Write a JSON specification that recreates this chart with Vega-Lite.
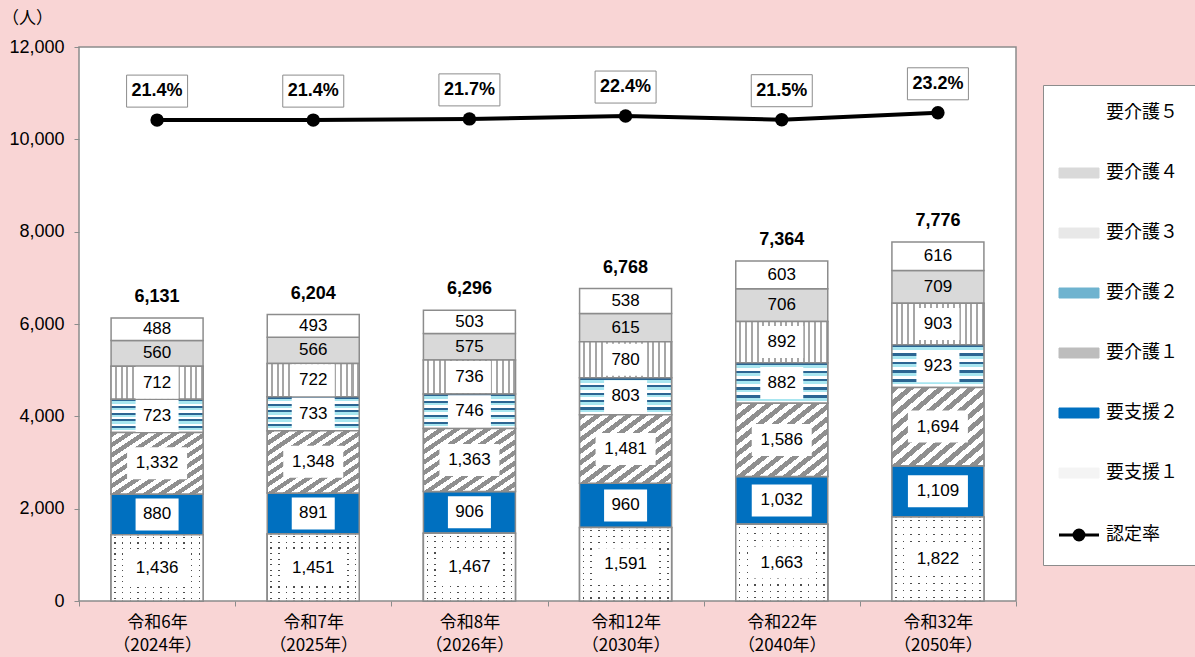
{
  "$schema": "https://vega.github.io/schema/vega-lite/v6.json",
  "width": 937,
  "height": 554,
  "autosize": "none",
  "padding": {"left": 79, "top": 47, "right": 179, "bottom": 56},
  "background": "#f9d5d5",
  "config": {
    "view": {"stroke": "#8c8c8c", "strokeWidth": 1.5, "fill": "white"},
    "font": "Noto Sans CJK JP"
  },
  "data": {
    "values": [
      {"year": "令和6年|（2024年）", "要支援１": 1436, "要支援２": 880, "要介護１": 1332, "要介護２": 723, "要介護３": 712, "要介護４": 560, "要介護５": 488, "total": 6131, "rate": 0.214},
      {"year": "令和7年|（2025年）", "要支援１": 1451, "要支援２": 891, "要介護１": 1348, "要介護２": 733, "要介護３": 722, "要介護４": 566, "要介護５": 493, "total": 6204, "rate": 0.214},
      {"year": "令和8年|（2026年）", "要支援１": 1467, "要支援２": 906, "要介護１": 1363, "要介護２": 746, "要介護３": 736, "要介護４": 575, "要介護５": 503, "total": 6296, "rate": 0.217},
      {"year": "令和12年|（2030年）", "要支援１": 1591, "要支援２": 960, "要介護１": 1481, "要介護２": 803, "要介護３": 780, "要介護４": 615, "要介護５": 538, "total": 6768, "rate": 0.224},
      {"year": "令和22年|（2040年）", "要支援１": 1663, "要支援２": 1032, "要介護１": 1586, "要介護２": 882, "要介護３": 892, "要介護４": 706, "要介護５": 603, "total": 7364, "rate": 0.215},
      {"year": "令和32年|（2050年）", "要支援１": 1822, "要支援２": 1109, "要介護１": 1694, "要介護２": 923, "要介護３": 903, "要介護４": 709, "要介護５": 616, "total": 7776, "rate": 0.232}
    ]
  },
  "encoding": {
    "x": {
      "field": "year",
      "type": "nominal",
      "scale": {
        "domain": ["令和6年|（2024年）", "令和7年|（2025年）", "令和8年|（2026年）", "令和12年|（2030年）", "令和22年|（2040年）", "令和32年|（2050年）"],
        "paddingInner": 0,
        "paddingOuter": 0
      },
      "axis": {
        "title": null,
        "labelAngle": 0,
        "labelExpr": "split(datum.label, '|')",
        "labelFont": "Noto Sans CJK JP",
        "labelFontSize": 17,
        "labelColor": "#000000",
        "labelLineHeight": 23,
        "labelPadding": 8,
        "domain": false,
        "ticks": true,
        "tickBand": "extent",
        "tickColor": "#8c8c8c",
        "tickSize": 5
      }
    }
  },
  "layer": [
    {
      "layer": [
        {
          "transform": [
            {"fold": ["要支援１", "要支援２", "要介護１", "要介護２", "要介護３", "要介護４", "要介護５"], "as": ["category", "count"]},
            {"window": [{"op": "row_number", "as": "rank"}], "groupby": ["year"]},
            {"stack": "count", "groupby": ["year"], "sort": [{"field": "rank", "order": "ascending"}], "as": ["y0", "y1"]}
          ],
          "layer": [
            {
              "mark": {"type": "bar", "width": 92, "stroke": "#8c8c8c", "strokeWidth": 1.5},
              "encoding": {
                "y": {
                  "field": "y0",
                  "type": "quantitative",
                  "scale": {"domain": [0, 12000], "nice": false},
                  "axis": {
                    "title": "（人）",
                    "titleAngle": 0,
                    "titleX": -52,
                    "titleY": -29,
                    "titleAlign": "center",
                    "titleBaseline": "middle",
                    "titleFont": "Noto Sans CJK JP",
                    "titleFontSize": 17,
                    "titleFontWeight": "normal",
                    "titleColor": "#000000",
                    "values": [0, 2000, 4000, 6000, 8000, 10000, 12000],
                    "format": ",d",
                    "labelFont": "Liberation Sans",
                    "labelFontSize": 18,
                    "labelColor": "#000000",
                    "domain": false,
                    "tickColor": "#8c8c8c",
                    "tickSize": 5,
                    "labelPadding": 10,
                    "grid": false
                  }
                },
                "y2": {"field": "y1"},
                "color": {
                  "field": "category",
                  "type": "nominal",
                  "scale": {
                    "domain": ["要介護５", "要介護４", "要介護３", "要介護２", "要介護１", "要支援２", "要支援１", "認定率"],
                    "range": ["#ffffff", "#d9d9d9", "#e8e8e8", "#6fb3cf", "#bdbdbd", "#0070c0", "#f4f4f4", "#000000"]
                  },
                  "legend": {
                    "orient": "none",
                    "legendX": 964,
                    "legendY": 38,
                    "title": null,
                    "fillColor": "white",
                    "strokeColor": "#8c8c8c",
                    "padding": 19,
                    "rowPadding": 42,
                    "symbolSize": 1600,
                    "symbolType": "M-1,-0.25H1V0.25H-1Z",
                    "symbolOffset": 8,
                    "labelOffset": 18,
                    "labelFont": "Noto Sans CJK JP",
                    "labelFontSize": 18,
                    "labelColor": "#000000",
                    "labelExpr": "datum.label + '            '",
                    "labelLimit": 300,
                    "symbolOpacity": 1,
                    "encoding": {
                      "symbols": {
                        "shape": {"value": {"expr": "datum.value === '認定率' ? 'M-1,0H1M0.25,0A0.25,0.25,0,1,1,-0.25,0A0.25,0.25,0,1,1,0.25,0Z' : 'M-1,-0.25H1V0.25H-1Z'"}},
                        "stroke": {"value": {"expr": "datum.value === '認定率' ? '#000000' : '#8c8c8c'"}},
                        "strokeWidth": {"value": {"expr": "datum.value === '認定率' ? 3 : 1"}},
                        "strokeOpacity": {"value": 1}
                      }
                    }
                  }
                }
              }
            },
            {
              "transform": [{"filter": "datum.category === '要介護３'"}],
              "mark": {
                "type": "bar", "width": 92, "stroke": "#8c8c8c", "strokeWidth": 1.5,
                "fill": {
                  "gradient": "linear", "x1": 0, "y1": 0, "x2": 1, "y2": 0,
                  "stops": [
                    {"offset": 0, "color": "#ffffff"}, {"offset": 0.0406, "color": "#ffffff"}, {"offset": 0.0406, "color": "#a6a6a6"}, {"offset": 0.0625, "color": "#a6a6a6"},
                    {"offset": 0.0625, "color": "#ffffff"}, {"offset": 0.1031, "color": "#ffffff"}, {"offset": 0.1031, "color": "#a6a6a6"}, {"offset": 0.125, "color": "#a6a6a6"},
                    {"offset": 0.125, "color": "#ffffff"}, {"offset": 0.1656, "color": "#ffffff"}, {"offset": 0.1656, "color": "#a6a6a6"}, {"offset": 0.1875, "color": "#a6a6a6"},
                    {"offset": 0.1875, "color": "#ffffff"}, {"offset": 0.2281, "color": "#ffffff"}, {"offset": 0.2281, "color": "#a6a6a6"}, {"offset": 0.25, "color": "#a6a6a6"},
                    {"offset": 0.25, "color": "#ffffff"}, {"offset": 0.2906, "color": "#ffffff"}, {"offset": 0.2906, "color": "#a6a6a6"}, {"offset": 0.3125, "color": "#a6a6a6"},
                    {"offset": 0.3125, "color": "#ffffff"}, {"offset": 0.3531, "color": "#ffffff"}, {"offset": 0.3531, "color": "#a6a6a6"}, {"offset": 0.375, "color": "#a6a6a6"},
                    {"offset": 0.375, "color": "#ffffff"}, {"offset": 0.4156, "color": "#ffffff"}, {"offset": 0.4156, "color": "#a6a6a6"}, {"offset": 0.4375, "color": "#a6a6a6"},
                    {"offset": 0.4375, "color": "#ffffff"}, {"offset": 0.4781, "color": "#ffffff"}, {"offset": 0.4781, "color": "#a6a6a6"}, {"offset": 0.5, "color": "#a6a6a6"},
                    {"offset": 0.5, "color": "#ffffff"}, {"offset": 0.5406, "color": "#ffffff"}, {"offset": 0.5406, "color": "#a6a6a6"}, {"offset": 0.5625, "color": "#a6a6a6"},
                    {"offset": 0.5625, "color": "#ffffff"}, {"offset": 0.6031, "color": "#ffffff"}, {"offset": 0.6031, "color": "#a6a6a6"}, {"offset": 0.625, "color": "#a6a6a6"},
                    {"offset": 0.625, "color": "#ffffff"}, {"offset": 0.6656, "color": "#ffffff"}, {"offset": 0.6656, "color": "#a6a6a6"}, {"offset": 0.6875, "color": "#a6a6a6"},
                    {"offset": 0.6875, "color": "#ffffff"}, {"offset": 0.7281, "color": "#ffffff"}, {"offset": 0.7281, "color": "#a6a6a6"}, {"offset": 0.75, "color": "#a6a6a6"},
                    {"offset": 0.75, "color": "#ffffff"}, {"offset": 0.7906, "color": "#ffffff"}, {"offset": 0.7906, "color": "#a6a6a6"}, {"offset": 0.8125, "color": "#a6a6a6"},
                    {"offset": 0.8125, "color": "#ffffff"}, {"offset": 0.8531, "color": "#ffffff"}, {"offset": 0.8531, "color": "#a6a6a6"}, {"offset": 0.875, "color": "#a6a6a6"},
                    {"offset": 0.875, "color": "#ffffff"}, {"offset": 0.9156, "color": "#ffffff"}, {"offset": 0.9156, "color": "#a6a6a6"}, {"offset": 0.9375, "color": "#a6a6a6"},
                    {"offset": 0.9375, "color": "#ffffff"}, {"offset": 0.9781, "color": "#ffffff"}, {"offset": 0.9781, "color": "#a6a6a6"}, {"offset": 1, "color": "#a6a6a6"}
                  ]
                }
              },
              "encoding": {"y": {"field": "y0", "type": "quantitative"}, "y2": {"field": "y1"}}
            },
            {
              "transform": [{"filter": "datum.category === '要介護２'"}],
              "mark": {
                "type": "bar", "width": 92, "stroke": "#8c8c8c", "strokeWidth": 1.5,
                "fill": {
                  "gradient": "linear", "x1": 0, "y1": 0, "x2": 0, "y2": 1,
                  "stops": [
                    {"offset": 0, "color": "#2b6592"}, {"offset": 0.06, "color": "#2b6592"}, {"offset": 0.06, "color": "#a8e6f0"}, {"offset": 0.13, "color": "#a8e6f0"}, {"offset": 0.13, "color": "#ffffff"}, {"offset": 0.2, "color": "#ffffff"},
                    {"offset": 0.2, "color": "#2b6592"}, {"offset": 0.26, "color": "#2b6592"}, {"offset": 0.26, "color": "#a8e6f0"}, {"offset": 0.33, "color": "#a8e6f0"}, {"offset": 0.33, "color": "#ffffff"}, {"offset": 0.4, "color": "#ffffff"},
                    {"offset": 0.4, "color": "#2b6592"}, {"offset": 0.46, "color": "#2b6592"}, {"offset": 0.46, "color": "#a8e6f0"}, {"offset": 0.53, "color": "#a8e6f0"}, {"offset": 0.53, "color": "#ffffff"}, {"offset": 0.6, "color": "#ffffff"},
                    {"offset": 0.6, "color": "#2b6592"}, {"offset": 0.66, "color": "#2b6592"}, {"offset": 0.66, "color": "#a8e6f0"}, {"offset": 0.73, "color": "#a8e6f0"}, {"offset": 0.73, "color": "#ffffff"}, {"offset": 0.8, "color": "#ffffff"},
                    {"offset": 0.8, "color": "#2b6592"}, {"offset": 0.86, "color": "#2b6592"}, {"offset": 0.86, "color": "#a8e6f0"}, {"offset": 0.93, "color": "#a8e6f0"}, {"offset": 0.93, "color": "#ffffff"}, {"offset": 1, "color": "#ffffff"}
                  ]
                }
              },
              "encoding": {"y": {"field": "y0", "type": "quantitative"}, "y2": {"field": "y1"}}
            },
            {
              "transform": [{"filter": "datum.category === '要介護１'"}],
              "mark": {
                "type": "bar", "width": 92, "stroke": "#8c8c8c", "strokeWidth": 1.5,
                "fill": {
                  "gradient": "linear", "x1": 0, "y1": 0, "x2": 1, "y2": 1,
                  "stops": [
                    {"offset": 0, "color": "#8f8f8f"}, {"offset": 0.0417, "color": "#8f8f8f"}, {"offset": 0.0417, "color": "#ffffff"}, {"offset": 0.0833, "color": "#ffffff"},
                    {"offset": 0.0833, "color": "#8f8f8f"}, {"offset": 0.125, "color": "#8f8f8f"}, {"offset": 0.125, "color": "#ffffff"}, {"offset": 0.1667, "color": "#ffffff"},
                    {"offset": 0.1667, "color": "#8f8f8f"}, {"offset": 0.2083, "color": "#8f8f8f"}, {"offset": 0.2083, "color": "#ffffff"}, {"offset": 0.25, "color": "#ffffff"},
                    {"offset": 0.25, "color": "#8f8f8f"}, {"offset": 0.2917, "color": "#8f8f8f"}, {"offset": 0.2917, "color": "#ffffff"}, {"offset": 0.3333, "color": "#ffffff"},
                    {"offset": 0.3333, "color": "#8f8f8f"}, {"offset": 0.375, "color": "#8f8f8f"}, {"offset": 0.375, "color": "#ffffff"}, {"offset": 0.4167, "color": "#ffffff"},
                    {"offset": 0.4167, "color": "#8f8f8f"}, {"offset": 0.4583, "color": "#8f8f8f"}, {"offset": 0.4583, "color": "#ffffff"}, {"offset": 0.5, "color": "#ffffff"},
                    {"offset": 0.5, "color": "#8f8f8f"}, {"offset": 0.5417, "color": "#8f8f8f"}, {"offset": 0.5417, "color": "#ffffff"}, {"offset": 0.5833, "color": "#ffffff"},
                    {"offset": 0.5833, "color": "#8f8f8f"}, {"offset": 0.625, "color": "#8f8f8f"}, {"offset": 0.625, "color": "#ffffff"}, {"offset": 0.6667, "color": "#ffffff"},
                    {"offset": 0.6667, "color": "#8f8f8f"}, {"offset": 0.7083, "color": "#8f8f8f"}, {"offset": 0.7083, "color": "#ffffff"}, {"offset": 0.75, "color": "#ffffff"},
                    {"offset": 0.75, "color": "#8f8f8f"}, {"offset": 0.7917, "color": "#8f8f8f"}, {"offset": 0.7917, "color": "#ffffff"}, {"offset": 0.8333, "color": "#ffffff"},
                    {"offset": 0.8333, "color": "#8f8f8f"}, {"offset": 0.875, "color": "#8f8f8f"}, {"offset": 0.875, "color": "#ffffff"}, {"offset": 0.9167, "color": "#ffffff"},
                    {"offset": 0.9167, "color": "#8f8f8f"}, {"offset": 0.9583, "color": "#8f8f8f"}, {"offset": 0.9583, "color": "#ffffff"}, {"offset": 1, "color": "#ffffff"}
                  ]
                }
              },
              "encoding": {"y": {"field": "y0", "type": "quantitative"}, "y2": {"field": "y1"}}
            },
            {
              "transform": [{"filter": "datum.category === '要支援１'"}],
              "mark": {
                "type": "bar", "width": 92, "stroke": "#8c8c8c", "strokeWidth": 1.5,
                "fill": {
                  "gradient": "linear", "x1": 0, "y1": 0, "x2": 0, "y2": 1,
                  "stops": [
                    {"offset": 0, "color": "#ffffff"},
                    {"offset": 0.033, "color": "#ffffff"}, {"offset": 0.033, "color": "#4d4d4d"}, {"offset": 0.05, "color": "#4d4d4d"}, {"offset": 0.05, "color": "#ffffff"},
                    {"offset": 0.117, "color": "#ffffff"}, {"offset": 0.117, "color": "#4d4d4d"}, {"offset": 0.133, "color": "#4d4d4d"}, {"offset": 0.133, "color": "#ffffff"},
                    {"offset": 0.2, "color": "#ffffff"}, {"offset": 0.2, "color": "#4d4d4d"}, {"offset": 0.217, "color": "#4d4d4d"}, {"offset": 0.217, "color": "#ffffff"},
                    {"offset": 0.283, "color": "#ffffff"}, {"offset": 0.283, "color": "#4d4d4d"}, {"offset": 0.3, "color": "#4d4d4d"}, {"offset": 0.3, "color": "#ffffff"},
                    {"offset": 0.367, "color": "#ffffff"}, {"offset": 0.367, "color": "#4d4d4d"}, {"offset": 0.383, "color": "#4d4d4d"}, {"offset": 0.383, "color": "#ffffff"},
                    {"offset": 0.45, "color": "#ffffff"}, {"offset": 0.45, "color": "#4d4d4d"}, {"offset": 0.467, "color": "#4d4d4d"}, {"offset": 0.467, "color": "#ffffff"},
                    {"offset": 0.533, "color": "#ffffff"}, {"offset": 0.533, "color": "#4d4d4d"}, {"offset": 0.55, "color": "#4d4d4d"}, {"offset": 0.55, "color": "#ffffff"},
                    {"offset": 0.617, "color": "#ffffff"}, {"offset": 0.617, "color": "#4d4d4d"}, {"offset": 0.633, "color": "#4d4d4d"}, {"offset": 0.633, "color": "#ffffff"},
                    {"offset": 0.7, "color": "#ffffff"}, {"offset": 0.7, "color": "#4d4d4d"}, {"offset": 0.717, "color": "#4d4d4d"}, {"offset": 0.717, "color": "#ffffff"},
                    {"offset": 0.783, "color": "#ffffff"}, {"offset": 0.783, "color": "#4d4d4d"}, {"offset": 0.8, "color": "#4d4d4d"}, {"offset": 0.8, "color": "#ffffff"},
                    {"offset": 0.867, "color": "#ffffff"}, {"offset": 0.867, "color": "#4d4d4d"}, {"offset": 0.883, "color": "#4d4d4d"}, {"offset": 0.883, "color": "#ffffff"},
                    {"offset": 0.95, "color": "#ffffff"}, {"offset": 0.95, "color": "#4d4d4d"}, {"offset": 0.967, "color": "#4d4d4d"}, {"offset": 0.967, "color": "#ffffff"},
                    {"offset": 1, "color": "#ffffff"}
                  ]
                }
              },
              "encoding": {"y": {"field": "y0", "type": "quantitative"}, "y2": {"field": "y1"}}
            },
            {
              "transform": [{"filter": "datum.category === '要支援１'"}],
              "mark": {
                "type": "bar", "width": 92, "stroke": "#8c8c8c", "strokeWidth": 1.5,
                "fill": {
                  "gradient": "linear", "x1": 0, "y1": 0, "x2": 1, "y2": 0,
                  "stops": [
                    {"offset": 0, "color": "#ffffff"},
                    {"offset": 0.035, "color": "#ffffff"}, {"offset": 0.035, "color": "rgba(255,255,255,0)"}, {"offset": 0.05, "color": "rgba(255,255,255,0)"}, {"offset": 0.05, "color": "#ffffff"},
                    {"offset": 0.1183, "color": "#ffffff"}, {"offset": 0.1183, "color": "rgba(255,255,255,0)"}, {"offset": 0.1333, "color": "rgba(255,255,255,0)"}, {"offset": 0.1333, "color": "#ffffff"},
                    {"offset": 0.2017, "color": "#ffffff"}, {"offset": 0.2017, "color": "rgba(255,255,255,0)"}, {"offset": 0.2167, "color": "rgba(255,255,255,0)"}, {"offset": 0.2167, "color": "#ffffff"},
                    {"offset": 0.285, "color": "#ffffff"}, {"offset": 0.285, "color": "rgba(255,255,255,0)"}, {"offset": 0.3, "color": "rgba(255,255,255,0)"}, {"offset": 0.3, "color": "#ffffff"},
                    {"offset": 0.3683, "color": "#ffffff"}, {"offset": 0.3683, "color": "rgba(255,255,255,0)"}, {"offset": 0.3833, "color": "rgba(255,255,255,0)"}, {"offset": 0.3833, "color": "#ffffff"},
                    {"offset": 0.4517, "color": "#ffffff"}, {"offset": 0.4517, "color": "rgba(255,255,255,0)"}, {"offset": 0.4667, "color": "rgba(255,255,255,0)"}, {"offset": 0.4667, "color": "#ffffff"},
                    {"offset": 0.535, "color": "#ffffff"}, {"offset": 0.535, "color": "rgba(255,255,255,0)"}, {"offset": 0.55, "color": "rgba(255,255,255,0)"}, {"offset": 0.55, "color": "#ffffff"},
                    {"offset": 0.6183, "color": "#ffffff"}, {"offset": 0.6183, "color": "rgba(255,255,255,0)"}, {"offset": 0.6333, "color": "rgba(255,255,255,0)"}, {"offset": 0.6333, "color": "#ffffff"},
                    {"offset": 0.7017, "color": "#ffffff"}, {"offset": 0.7017, "color": "rgba(255,255,255,0)"}, {"offset": 0.7167, "color": "rgba(255,255,255,0)"}, {"offset": 0.7167, "color": "#ffffff"},
                    {"offset": 0.785, "color": "#ffffff"}, {"offset": 0.785, "color": "rgba(255,255,255,0)"}, {"offset": 0.8, "color": "rgba(255,255,255,0)"}, {"offset": 0.8, "color": "#ffffff"},
                    {"offset": 0.8683, "color": "#ffffff"}, {"offset": 0.8683, "color": "rgba(255,255,255,0)"}, {"offset": 0.8833, "color": "rgba(255,255,255,0)"}, {"offset": 0.8833, "color": "#ffffff"},
                    {"offset": 0.9517, "color": "#ffffff"}, {"offset": 0.9517, "color": "rgba(255,255,255,0)"}, {"offset": 0.9667, "color": "rgba(255,255,255,0)"}, {"offset": 0.9667, "color": "#ffffff"},
                    {"offset": 1, "color": "#ffffff"}
                  ]
                }
              },
              "encoding": {"y": {"field": "y0", "type": "quantitative"}, "y2": {"field": "y1"}}
            },
            {
              "transform": [{"filter": "datum.category !== '要介護４' && datum.category !== '要介護５'"}],
              "mark": {"type": "point", "filled": true, "fill": "#ffffff", "opacity": 1, "strokeWidth": 0},
              "encoding": {
                "y": {"field": "count", "type": "quantitative", "stack": "zero", "bandPosition": 0.5},
                "order": {"field": "rank", "type": "quantitative"},
                "detail": {"field": "category", "type": "nominal"},
                "shape": {"condition": {"test": "datum.count >= 1000", "value": "M-1,-0.533H1V0.533H-1Z"}, "value": "M-1,-0.744H1V0.744H-1Z"},
                "size": {"condition": {"test": "datum.count >= 1000", "value": 3600}, "value": 1849}
              }
            },
            {
              "mark": {"type": "text", "font": "Liberation Sans", "fontSize": 17, "fill": "#000000", "baseline": "middle"},
              "encoding": {
                "y": {"field": "count", "type": "quantitative", "stack": "zero", "bandPosition": 0.5},
                "order": {"field": "rank", "type": "quantitative"},
                "detail": {"field": "category", "type": "nominal"},
                "text": {"field": "count", "type": "quantitative", "format": ",d"}
              }
            }
          ]
        },
        {
          "mark": {"type": "text", "font": "Liberation Sans", "fontWeight": "bold", "fontSize": 18, "dy": -21, "baseline": "middle", "fill": "#000000"},
          "encoding": {
            "y": {"field": "total", "type": "quantitative"},
            "text": {"field": "total", "type": "quantitative", "format": ",d"}
          }
        }
      ]
    },
    {
      "encoding": {
        "y": {"field": "rate", "type": "quantitative", "scale": {"domain": [-0.97, 0.394], "nice": false, "zero": false}, "axis": null}
      },
      "layer": [
        {
          "mark": {"type": "line", "strokeWidth": 4},
          "encoding": {"color": {"datum": "認定率", "type": "nominal"}}
        },
        {
          "mark": {"type": "point", "filled": true, "fill": "#000000", "size": 180, "opacity": 1}
        },
        {
          "mark": {"type": "point", "shape": "M-1,-0.525H1V0.525H-1Z", "size": 3721, "filled": true, "fill": "#ffffff", "stroke": "#8c8c8c", "strokeWidth": 1, "yOffset": -29, "opacity": 1}
        },
        {
          "mark": {"type": "text", "font": "Liberation Sans", "fontWeight": "bold", "fontSize": 18, "dy": -29, "baseline": "middle", "fill": "#000000"},
          "encoding": {"text": {"field": "rate", "type": "quantitative", "format": ".1%"}}
        }
      ]
    }
  ],
  "resolve": {"scale": {"y": "independent"}}
}
